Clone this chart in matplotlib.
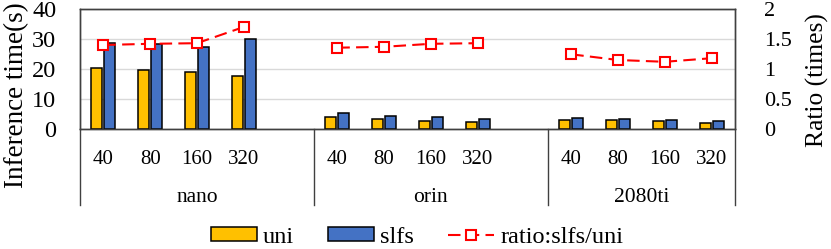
import matplotlib
matplotlib.use("Agg")
import matplotlib.pyplot as plt
from matplotlib.lines import Line2D
from matplotlib.patches import Patch
import numpy as np

plt.rcParams['font.family'] = ['Liberation Serif', 'DejaVu Serif']

groups = ["nano", "orin", "2080ti"]
sizes = ["40", "80", "160", "320"]
uni = [20.2, 19.8, 18.9, 17.7, 3.9, 3.2, 2.8, 2.3, 3.0, 2.9, 2.6, 2.1]
slfs = [28.5, 28.2, 27.2, 30.1, 5.3, 4.3, 3.9, 3.4, 3.8, 3.4, 3.0, 2.6]
ratio = [1.40, 1.42, 1.43, 1.70, 1.355, 1.37, 1.42, 1.43, 1.245, 1.15, 1.12, 1.18]

# category slots: each group has 4 sizes, first two groups have an empty slot after
slots_per_group = [5, 5, 4]
labels = []
xpos = []
pos = 0
for g, n in zip(groups, slots_per_group):
    for i in range(n):
        if i < len(sizes):
            xpos.append(pos)
        labels.append(sizes[i] if i < len(sizes) else "")
        pos += 1
ncat = pos
xpos = np.array(xpos)

W, H = 831, 249
fig = plt.figure(figsize=(W/100, H/100), dpi=100)
L, R, T, B = 80, 735, 9, 129
ax = fig.add_axes([L/W, 1-B/H, (R-L)/W, (B-T)/H])
ax2 = ax.twinx()

bw = 0.235
gap = 0.045
ax.bar(xpos - (bw+gap)/2, uni, bw, color="#FFC000", edgecolor="black", linewidth=1.1, zorder=3, label="uni")
ax.bar(xpos + (bw+gap)/2, slfs, bw, color="#4472C4", edgecolor="black", linewidth=1.1, zorder=3, label="slfs")

line_kw = dict(color="#FF0000", linestyle=(0, (6, 3)), linewidth=1.5, marker="s", markersize=6.5,
               markerfacecolor="white", markeredgecolor="#FF0000", markeredgewidth=1.5)
for gi in range(3):
    sl = slice(gi*4, gi*4+4)
    ax2.plot(xpos[sl], ratio[sl], zorder=4, **line_kw)

ax.set_xlim(-0.5, ncat-0.5)
ax.set_ylim(0, 40)
ax.set_yticks([0, 10, 20, 30, 40])
ax2.set_ylim(0, 2)
ax2.set_yticks([0, 0.5, 1, 1.5, 2])
ax2.set_yticklabels(["0", "0.5", "1", "1.5", "2"])
ax.grid(axis="y", color="#d9d9d9", linewidth=1, zorder=0)
ax.set_axisbelow(True)

ax.set_xticks(range(ncat))
ax.set_xticklabels(labels)
ax.tick_params(axis="x", length=0, pad=15, labelsize=15)
ax.tick_params(axis="y", length=0, pad=17, labelsize=17.5)
ax2.tick_params(axis="y", length=0, pad=21, labelsize=16)

for a in (ax, ax2):
    for s in a.spines.values():
        s.set_color("#404040")
        s.set_linewidth(1)

ax.set_ylabel("Inference time(s)", fontsize=19.5)
ax.yaxis.set_label_coords((29 - L) / (R - L), (B - 95) / (B - T))
ax2.set_ylabel("Ratio (times)", fontsize=18.4)
ax2.yaxis.set_label_coords((806 - L) / (R - L), (B - 80) / (B - T))

# group separators and labels
ybot = -(205 - B) / (B - T)
bounds = [0, 5, 10, 14]
for b in bounds:
    xa = b / ncat
    ax.add_line(Line2D([xa, xa], [0, ybot], transform=ax.transAxes, color="#404040",
                       linewidth=1, clip_on=False))
for gi, g in enumerate(groups):
    xc = (bounds[gi] + bounds[gi+1]) / 2 / ncat
    ax.text(xc, -(202 - B) / (B - T), g, transform=ax.transAxes, ha="center", va="baseline", fontsize=15.5)

handles = [Patch(facecolor="#FFC000", edgecolor="black", linewidth=1.1),
           Patch(facecolor="#4472C4", edgecolor="black", linewidth=1.1),
           Line2D([0], [0], **line_kw)]
fig.legend(handles, ["uni", "slfs", "ratio:slfs/uni"], loc="center", bbox_to_anchor=(417/W, 1-237/H),
           ncol=3, frameon=False, fontsize=17.5, handlelength=1.9, handleheight=0.5,
           columnspacing=1.4, handletextpad=0.25, borderpad=0.1)

fig.savefig("out.png", dpi=100)
